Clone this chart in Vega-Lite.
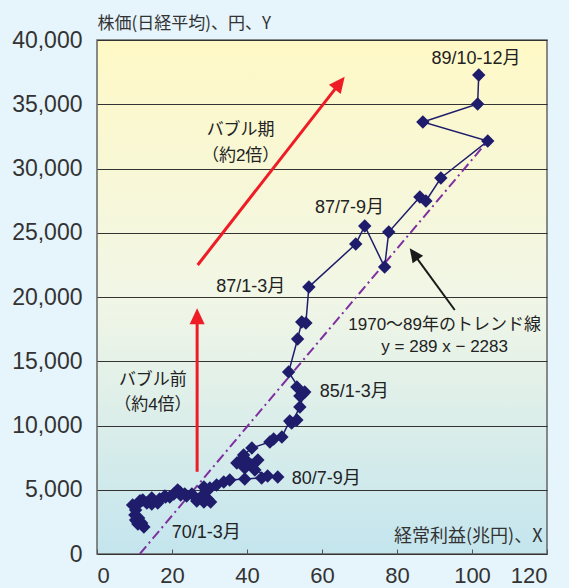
{
  "$schema": "https://vega.github.io/schema/vega-lite/v6.json",
  "width": 450,
  "height": 514,
  "autosize": {"type": "none"},
  "padding": {"left": 97, "top": 40, "right": 22, "bottom": 34},
  "background": "#E6F4FB",
  "config": {
    "view": {
      "fill": {"gradient": "linear", "x1": 0, "y1": 0, "x2": 0, "y2": 1,
        "stops": [{"offset": 0, "color": "#FFF9C6"}, {"offset": 0.5, "color": "#F1F6E6"}, {"offset": 1, "color": "#C4E5EE"}]},
      "stroke": "#666",
      "strokeWidth": 1.5
    },
    "font": "Liberation Sans"
  },
  "datasets": {
    "series": [
      {"t": 1, "x": 12.5, "y": 2100}, {"t": 2, "x": 10.9, "y": 2330}, {"t": 3, "x": 10.3, "y": 2650}, {"t": 4, "x": 11.1, "y": 2800},
      {"t": 5, "x": 11.9, "y": 2410}, {"t": 6, "x": 10.6, "y": 2570}, {"t": 7, "x": 10.1, "y": 3030}, {"t": 8, "x": 10.3, "y": 3420},
      {"t": 9, "x": 9.5, "y": 3810}, {"t": 10, "x": 11.4, "y": 4120}, {"t": 11, "x": 14.6, "y": 4360}, {"t": 12, "x": 18.1, "y": 4510},
      {"t": 13, "x": 21.5, "y": 4980}, {"t": 14, "x": 23.4, "y": 4670}, {"t": 15, "x": 22.1, "y": 4820}, {"t": 16, "x": 19.4, "y": 4440},
      {"t": 17, "x": 16.7, "y": 4280}, {"t": 18, "x": 14.3, "y": 4050}, {"t": 19, "x": 12.2, "y": 4200}, {"t": 20, "x": 10.9, "y": 3890},
      {"t": 21, "x": 11.7, "y": 4120}, {"t": 22, "x": 13.3, "y": 3970}, {"t": 23, "x": 14.6, "y": 3890}, {"t": 24, "x": 16.2, "y": 3970},
      {"t": 25, "x": 18.3, "y": 4440}, {"t": 26, "x": 20.5, "y": 4670}, {"t": 27, "x": 22.3, "y": 4590}, {"t": 28, "x": 23.9, "y": 4510},
      {"t": 29, "x": 25.3, "y": 4670}, {"t": 30, "x": 26.6, "y": 4120}, {"t": 31, "x": 27.7, "y": 4440}, {"t": 32, "x": 28.5, "y": 4050},
      {"t": 33, "x": 29.5, "y": 4280}, {"t": 34, "x": 30.3, "y": 4050}, {"t": 35, "x": 29.3, "y": 4900}, {"t": 36, "x": 28.5, "y": 5210},
      {"t": 37, "x": 30.1, "y": 5140}, {"t": 38, "x": 31.9, "y": 5370}, {"t": 39, "x": 33.8, "y": 5600}, {"t": 40, "x": 35.4, "y": 5760},
      {"t": 41, "x": 39.4, "y": 5840}, {"t": 42, "x": 43.9, "y": 5910}, {"t": 43, "x": 48.2, "y": 5990}, {"t": 44, "x": 45.5, "y": 6070},
      {"t": 45, "x": 42.1, "y": 6540}, {"t": 46, "x": 40.2, "y": 7160}, {"t": 47, "x": 42.9, "y": 7320}, {"t": 48, "x": 41.3, "y": 6930},
      {"t": 49, "x": 39.4, "y": 6690}, {"t": 50, "x": 38.1, "y": 7240}, {"t": 51, "x": 37.3, "y": 7080}, {"t": 52, "x": 39.1, "y": 7700},
      {"t": 53, "x": 41.3, "y": 8250}, {"t": 54, "x": 46.1, "y": 8720}, {"t": 55, "x": 47.1, "y": 8950}, {"t": 56, "x": 49.3, "y": 9110},
      {"t": 57, "x": 51.4, "y": 10350}, {"t": 58, "x": 53.3, "y": 10430}, {"t": 59, "x": 51.9, "y": 10190}, {"t": 60, "x": 54.1, "y": 11440},
      {"t": 61, "x": 55.4, "y": 12610}, {"t": 62, "x": 54.1, "y": 12300}, {"t": 63, "x": 53.3, "y": 13000}, {"t": 64, "x": 54.9, "y": 12450},
      {"t": 65, "x": 51.1, "y": 14160}, {"t": 66, "x": 53.5, "y": 16730}, {"t": 67, "x": 54.6, "y": 18050}, {"t": 68, "x": 55.7, "y": 17980},
      {"t": 69, "x": 56.5, "y": 20780}, {"t": 70, "x": 69.0, "y": 24120}, {"t": 71, "x": 71.4, "y": 25530}, {"t": 72, "x": 76.7, "y": 22330},
      {"t": 73, "x": 77.8, "y": 25060}, {"t": 74, "x": 86.1, "y": 27780}, {"t": 75, "x": 87.7, "y": 27470}, {"t": 76, "x": 91.7, "y": 29260},
      {"t": 77, "x": 104.2, "y": 32140}, {"t": 78, "x": 86.9, "y": 33620}, {"t": 79, "x": 101.5, "y": 35020}, {"t": 80, "x": 101.8, "y": 37280}
    ],
    "trend": [{"x": 11.4, "y": 0}, {"x": 104.2, "y": 32140}],
    "redShafts": [
      {"x": 26.7, "y": 6400, "x2": 26.7, "y2": 18340},
      {"x": 26.85, "y": 22490, "x2": 64.4, "y2": 36530}
    ],
    "redHeadUp": [{"x": 26.7, "y": 19120}],
    "redHeadDiag": [{"x": 66.05, "y": 37140}],
    "blackShaft": [{"x": 95.4, "y": 18990, "x2": 84.8, "y2": 23220}],
    "blackHead": [{"x": 83.4, "y": 23790}],
    "pointLabels": [
      {"text": "70/1-3月", "x": 19.9, "y": 1630},
      {"text": "80/7-9月", "x": 51.9, "y": 5810},
      {"text": "85/1-3月", "x": 59.4, "y": 12630},
      {"text": "87/1-3月", "x": 31.8, "y": 20800},
      {"text": "87/7-9月", "x": 58.1, "y": 26900},
      {"text": "89/10-12月", "x": 89.2, "y": 38520}
    ],
    "notes": [
      {"text": "バブル期", "x": 38.3, "y": 33000},
      {"text": "（約2倍）", "x": 38.3, "y": 30970},
      {"text": "バブル前", "x": 14.9, "y": 13540},
      {"text": "（約4倍）", "x": 14.9, "y": 11600},
      {"text": "1970～89年のトレンド線", "x": 92.7, "y": 17820},
      {"text": "y = 289 x − 2283", "x": 92.7, "y": 16110}
    ]
  },
  "encoding": {
    "x": {"field": "x", "type": "quantitative", "scale": {"domain": [0, 120], "nice": false},
      "axis": {"values": [0, 20, 40, 60, 80, 100, 120], "format": "d", "grid": false, "domain": false, "tickSize": -5, "tickColor": "#555", "tickWidth": 1,
        "labelFontSize": 22, "labelColor": "#333", "labelPadding": 16, "labelFont": "Liberation Sans",
        "title": "経常利益(兆円)、X", "titleX": 445, "titleY": -18, "titleAlign": "right", "titleBaseline": "middle",
        "titleFontSize": 18, "titleFontWeight": "normal", "titleFont": "Noto Sans CJK JP", "titleColor": "#333"}},
    "y": {"field": "y", "type": "quantitative", "scale": {"domain": [0, 40000], "nice": false},
      "axis": {"values": [0, 5000, 10000, 15000, 20000, 25000, 30000, 35000, 40000], "format": ",.0f", "grid": true, "gridColor": "#333", "gridWidth": 1,
        "ticks": false, "domain": false, "labelFontSize": 23, "labelColor": "#333", "labelPadding": 15, "labelFont": "Liberation Sans",
        "title": "株価(日経平均)、円、Y", "titleAngle": 0, "titleX": 0, "titleY": -17, "titleAlign": "left", "titleBaseline": "middle",
        "titleFontSize": 17, "titleFontWeight": "normal", "titleFont": "Noto Sans CJK JP", "titleColor": "#333"}}
  },
  "layer": [
    {
      "data": {"name": "redShafts"},
      "mark": {"type": "rule", "color": "#EE1C25", "strokeWidth": 3},
      "encoding": {"x2": {"field": "x2"}, "y2": {"field": "y2"}}
    },
    {
      "data": {"name": "redHeadUp"},
      "mark": {"type": "point", "shape": "M0,0L-0.75,1.6L0.75,1.6Z", "filled": true, "color": "#EE1C25", "opacity": 1, "size": 400, "angle": 0}
    },
    {
      "data": {"name": "redHeadDiag"},
      "mark": {"type": "point", "shape": "M0,0L-0.75,1.6L0.75,1.6Z", "filled": true, "color": "#EE1C25", "opacity": 1, "size": 400, "angle": 38}
    },
    {
      "data": {"name": "blackShaft"},
      "mark": {"type": "rule", "color": "#1a1a1a", "strokeWidth": 2},
      "encoding": {"x2": {"field": "x2"}, "y2": {"field": "y2"}}
    },
    {
      "data": {"name": "blackHead"},
      "mark": {"type": "point", "shape": "M0,0L-0.75,1.6L0.75,1.6Z", "filled": true, "color": "#1a1a1a", "opacity": 1, "size": 300, "angle": -36}
    },
    {
      "data": {"name": "trend"},
      "mark": {"type": "line", "color": "#7E2FA0", "strokeWidth": 2, "strokeDash": [10, 4, 2, 4]}
    },
    {
      "data": {"name": "series"},
      "mark": {"type": "line", "color": "#1F1D6B", "strokeWidth": 1.5},
      "encoding": {"order": {"field": "t", "type": "quantitative"}}
    },
    {
      "data": {"name": "series"},
      "mark": {"type": "point", "shape": "diamond", "filled": true, "color": "#1F1D6B", "opacity": 1, "size": 180}
    },
    {
      "data": {"name": "pointLabels"},
      "mark": {"type": "text", "align": "left", "baseline": "middle", "fontSize": 18, "font": "Liberation Sans, Noto Sans CJK JP", "color": "#222"},
      "encoding": {"text": {"field": "text"}}
    },
    {
      "data": {"name": "notes"},
      "mark": {"type": "text", "align": "center", "baseline": "middle", "fontSize": 17, "font": "Liberation Sans, Noto Sans CJK JP", "color": "#222"},
      "encoding": {"text": {"field": "text"}}
    }
  ]
}
